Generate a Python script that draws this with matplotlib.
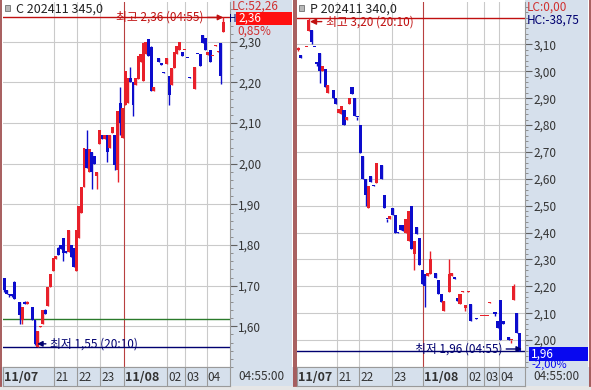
import numpy as np
from matplotlib import pyplot as plt
from matplotlib.patches import Rectangle

plt.rcParams['font.family'] = ['Noto Sans CJK KR', 'DejaVu Sans']

# ---- call option (C 202411 345.0), one candle per 5-minute slot
call_slot = [0, 1, 2, 3, 4, 6, 7, 8, 9, 11,
             12, 13, 14, 15, 16, 17, 18, 19, 20, 21,
             22, 23, 24, 25, 26, 27, 28, 29, 30, 31,
             32, 33, 34, 35, 36, 37, 38, 39, 40, 41,
             42, 43, 44, 45, 46, 47, 48, 49, 50, 51,
             52, 53, 54, 55, 56, 57, 58, 60, 61, 62,
             63, 64, 65, 66, 67, 68, 69, 70, 71, 72,
             74, 75, 76, 77, 78, 79, 80, 81, 82, 83,
             84, 85]
call_open = [1.72, 1.69, 1.678, 1.68, 1.71, 1.66, 1.615, 1.66, 1.655, 1.648,
             1.615, 1.55, 1.598, 1.607, 1.64, 1.649, 1.697, 1.735, 1.765, 1.793,
             1.80, 1.817, 1.785, 1.783, 1.80, 1.793, 1.735, 1.817, 1.88, 1.944,
             2.036, 1.98, 2.03, 2.02, 1.97, 2.048, 2.07, 2.06, 2.07, 2.04,
             2.075, 2.07, 1.985, 2.15, 2.064, 2.144, 2.15, 2.21, 2.20, 2.195,
             2.209, 2.25, 2.204, 2.27, 2.307, 2.288, 2.18, 2.26, 2.246, 2.226,
             2.245, 2.216, 2.194, 2.236, 2.27, 2.28, 2.275, 2.279, 2.261, 2.214,
             2.185, 2.271, 2.27, 2.317, 2.31, 2.267, 2.28, 2.264, 2.289, 2.275,
             2.298, 2.325]
call_high = [1.72, 1.69, 1.68, 1.68, 1.712, 1.66, 1.648, 1.662, 1.662, 1.648,
             1.615, 1.588, 1.602, 1.64, 1.642, 1.697, 1.728, 1.769, 1.772, 1.796,
             1.80, 1.817, 1.785, 1.836, 1.80, 1.793, 1.836, 1.896, 1.944, 2.04,
             2.084, 2.036, 2.03, 2.02, 1.98, 2.084, 2.07, 2.072, 2.07, 2.07,
             2.09, 2.07, 2.13, 2.19, 2.137, 2.228, 2.21, 2.237, 2.20, 2.21,
             2.264, 2.27, 2.298, 2.30, 2.307, 2.29, 2.19, 2.26, 2.246, 2.226,
             2.26, 2.216, 2.236, 2.275, 2.29, 2.30, 2.275, 2.281, 2.261, 2.214,
             2.237, 2.271, 2.27, 2.317, 2.31, 2.275, 2.28, 2.266, 2.291, 2.277,
             2.298, 2.36]
call_low = [1.685, 1.68, 1.672, 1.672, 1.668, 1.607, 1.607, 1.654, 1.655, 1.615,
            1.555, 1.548, 1.598, 1.607, 1.63, 1.649, 1.697, 1.735, 1.765, 1.776,
            1.79, 1.76, 1.78, 1.783, 1.77, 1.745, 1.735, 1.817, 1.88, 1.944,
            1.99, 1.98, 1.937, 2.0, 1.937, 2.048, 2.06, 2.06, 2.004, 2.04,
            2.075, 1.985, 1.956, 2.07, 2.064, 2.144, 2.15, 2.20, 2.117, 2.195,
            2.209, 2.25, 2.204, 2.27, 2.264, 2.18, 2.18, 2.25, 2.244, 2.224,
            2.245, 2.144, 2.194, 2.236, 2.27, 2.28, 2.265, 2.279, 2.259, 2.21,
            2.185, 2.269, 2.24, 2.298, 2.28, 2.267, 2.25, 2.264, 2.289, 2.275,
            2.197, 2.325]
call_close = [1.69, 1.68, 1.676, 1.675, 1.668, 1.628, 1.648, 1.655, 1.661, 1.615,
              1.556, 1.588, 1.601, 1.64, 1.63, 1.697, 1.728, 1.769, 1.772, 1.776,
              1.79, 1.78, 1.78, 1.836, 1.77, 1.745, 1.836, 1.896, 1.944, 2.04,
              1.99, 2.036, 1.98, 2.0, 1.98, 2.084, 2.06, 2.072, 2.03, 2.07,
              2.09, 1.997, 2.13, 2.10, 2.137, 2.228, 2.21, 2.20, 2.144, 2.21,
              2.264, 2.27, 2.298, 2.30, 2.264, 2.18, 2.19, 2.25, 2.244, 2.224,
              2.26, 2.168, 2.236, 2.275, 2.29, 2.30, 2.265, 2.281, 2.259, 2.21,
              2.237, 2.269, 2.24, 2.298, 2.28, 2.275, 2.25, 2.266, 2.291, 2.277,
              2.216, 2.35]

# ---- put option (P 202411 340.0)
put_slot = [0, 1, 3, 4, 5, 6, 7, 8, 9, 10,
            11, 13, 14, 15, 16, 17, 18, 19, 20, 21,
            22, 23, 24, 25, 26, 27, 28, 29, 31, 32,
            33, 34, 35, 36, 37, 38, 39, 40, 41, 42,
            43, 44, 45, 46, 47, 48, 49, 51, 52, 53,
            54, 56, 57, 58, 59, 60, 61, 62, 63, 64,
            66, 68, 69, 70, 71, 73, 74, 75, 76, 78,
            79, 80, 81, 82]
put_open = [3.08, 3.06, 3.089, 3.15, 3.155, 3.091, 3.031, 3.07, 3.00, 3.01,
            2.92, 2.93, 2.90, 2.845, 2.84, 2.855, 2.82, 2.88, 2.94, 2.90,
            2.831, 2.80, 2.685, 2.60, 2.49, 2.61, 2.576, 2.585, 2.65, 2.54,
            2.451, 2.45, 2.49, 2.465, 2.401, 2.43, 2.43, 2.40, 2.37, 2.50,
            2.32, 2.42, 2.38, 2.26, 2.245, 2.24, 2.245, 2.25, 2.225, 2.17,
            2.11, 2.18, 2.24, 2.231, 2.155, 2.135, 2.179, 2.12, 2.179, 2.135,
            2.081, 2.089, 2.089, 2.089, 2.139, 2.101, 2.07, 2.15, 2.07, 2.01,
            1.999, 2.15, 2.10, 2.025]
put_high = [3.09, 3.06, 3.091, 3.20, 3.155, 3.091, 3.031, 3.07, 3.02, 3.01,
            2.95, 2.93, 2.90, 2.86, 2.87, 2.855, 2.83, 2.90, 2.94, 2.90,
            2.831, 2.80, 2.685, 2.60, 2.575, 2.61, 2.576, 2.66, 2.65, 2.54,
            2.451, 2.46, 2.49, 2.465, 2.401, 2.43, 2.43, 2.45, 2.48, 2.50,
            2.37, 2.42, 2.38, 2.26, 2.245, 2.25, 2.33, 2.25, 2.225, 2.17,
            2.145, 2.30, 2.25, 2.231, 2.155, 2.17, 2.181, 2.13, 2.181, 2.135,
            2.081, 2.091, 2.091, 2.091, 2.141, 2.101, 2.07, 2.15, 2.07, 2.01,
            2.001, 2.21, 2.10, 2.025]
put_low = [3.075, 3.05, 3.089, 3.15, 3.10, 3.089, 3.02, 2.955, 3.00, 2.94,
           2.92, 2.90, 2.88, 2.845, 2.84, 2.80, 2.82, 2.88, 2.915, 2.835,
           2.82, 2.695, 2.60, 2.50, 2.49, 2.59, 2.574, 2.585, 2.60, 2.49,
           2.44, 2.45, 2.465, 2.40, 2.399, 2.41, 2.405, 2.40, 2.37, 2.34,
           2.26, 2.395, 2.28, 2.21, 2.125, 2.24, 2.245, 2.23, 2.17, 2.14,
           2.11, 2.18, 2.24, 2.229, 2.145, 2.135, 2.179, 2.11, 2.179, 2.07,
           2.079, 2.089, 2.089, 2.089, 2.139, 2.09, 2.045, 2.00, 2.06, 2.00,
           1.99, 2.15, 2.025, 1.96]
put_close = [3.085, 3.05, 3.091, 3.19, 3.11, 3.089, 3.029, 3.00, 3.02, 2.94,
             2.95, 2.90, 2.88, 2.86, 2.87, 2.80, 2.83, 2.90, 2.915, 2.835,
             2.829, 2.695, 2.60, 2.54, 2.575, 2.59, 2.574, 2.66, 2.60, 2.49,
             2.449, 2.46, 2.465, 2.40, 2.399, 2.41, 2.405, 2.45, 2.48, 2.34,
             2.37, 2.395, 2.28, 2.21, 2.20, 2.25, 2.30, 2.23, 2.17, 2.14,
             2.145, 2.245, 2.25, 2.229, 2.145, 2.17, 2.181, 2.13, 2.181, 2.07,
             2.079, 2.091, 2.091, 2.091, 2.141, 2.099, 2.045, 2.00, 2.06, 2.00,
             2.001, 2.20, 2.025, 1.96]

# session boundaries (in slots) and their labels
day_labels = ['11/07', '21', '22', '23', '11/08', '02', '03', '04']
call_day_start = [-0.4, 19.4, 28.3, 37.2, 46.5, 63.1, 70.2, 78.5]
put_day_start = [-0.4, 14.4, 22.6, 34.8, 46.3, 62.6, 68.9, 74.4]

call_hi, call_lo, call_base = 2.36, 1.55, 1.617
put_hi, put_lo = 3.20, 1.96

RED = '#E8202A'
BLUE = '#0C0CCC'
NAVY = '#000070'
DKRED = '#C01010'
PANEL = '#D6E0EC'
GRID = '#CACACA'
W, H = 591, 390

fig = plt.figure(figsize=(W / 100, H / 100), dpi=100)


def px_axes(x0, y0, x1, y1, **kw):
    return fig.add_axes([x0 / W, 1 - y1 / H, (x1 - x0) / W, (y1 - y0) / H], **kw)


def comma(v, _=None):
    return f'{v:.2f}'.replace('.', ',')


# background / decoration layer in pixel units
bg = px_axes(0, 0, W, H, zorder=-5)
bg.set_xlim(0, W)
bg.set_ylim(H, 0)
bg.axis('off')
for x0, x1 in [(230, 292), (525, 588)]:
    bg.add_patch(Rectangle((x0, 0), x1 - x0, 367, color=PANEL, lw=0))
bg.add_patch(Rectangle((0, 367), W, 19, color=PANEL, lw=0))
bg.add_patch(Rectangle((0, 386), W, 4, color='#E6E6E6', lw=0))
for x in [1, 293.5, 296, 589.5]:
    bg.axvline(x, ymin=4 / H, color='#A05050', lw=1.3)


def draw_panel(x0, x1, slots, o, h, l, c, ylim, ticks, day_start, xlim, minh):
    ax = px_axes(x0, 2, x1, 367)
    ax.set_facecolor('white')
    ax.set_xlim(*xlim)
    ax.set_ylim(*ylim)
    t = np.array(slots)
    o, h, l, c = map(np.array, (o, h, l, c))
    colors = np.where(c >= o, RED, BLUE)
    for y in ticks:
        ax.axhline(y, color=GRID, lw=0.8, zorder=0)
    for i, d in enumerate(day_start[1:], start=1):
        ax.axvline(d, color='#B84040' if i == 4 else GRID, lw=0.8, zorder=0)
    ax.vlines(t, l, h, colors=colors, lw=1, zorder=2)
    ax.bar(t, np.maximum(np.abs(c - o), minh), bottom=np.minimum(o, c),
           width=1.15, color=colors, lw=0, zorder=3)
    ax.yaxis.tick_right()
    ax.set_yticks(ticks)
    ax.set_yticks(np.arange(ticks[0] - 0.1, ylim[1], 0.02), minor=True)
    ax.yaxis.set_major_formatter(comma)
    ax.tick_params(axis='y', which='major', direction='out', length=5, width=0.8,
                   color='#606060', labelsize=8.5, labelcolor='#333333', pad=1)
    ax.tick_params(axis='y', which='minor', direction='out', length=2.5, width=0.6,
                   color='#808080')
    ax.set_xticks([])
    for s in ['top', 'left']:
        ax.spines[s].set_visible(False)
    for s in ['right', 'bottom']:
        ax.spines[s].set_color('#9A9A9A')
        ax.spines[s].set_linewidth(0.8)

    # date row under the panel
    row = px_axes(x0, 367, x1, 386)
    row.set_facecolor(PANEL)
    row.set_xlim(*xlim)
    row.set_ylim(0, 1)
    row.set_xticks([])
    row.set_yticks([])
    for s in row.spines.values():
        s.set_color('#9A9A9A')
        s.set_linewidth(0.8)
    for i, (d, lab) in enumerate(zip(day_start, day_labels)):
        if i > 0:
            row.axvline(d, color='#9A9A9A', lw=0.8)
        bold = '/' in lab
        row.text(d + 0.5, 0.45, lab, fontsize=9 if bold else 8.5,
                 fontweight='bold' if bold else 'normal', color='#333333',
                 va='center', ha='left')
    return ax


ax1 = draw_panel(3, 230, call_slot, call_open, call_high, call_low, call_close,
                 (1.520, 2.398), np.round(np.arange(1.60, 2.31, 0.1), 2),
                 call_day_start, (-0.4, 87.6), 0.003)
ax1.axhline(call_hi, color=DKRED, lw=1, zorder=1)
ax1.axhline(call_lo, color=NAVY, lw=1, zorder=1)
ax1.axhline(call_base, color='#2A7A2A', lw=1, zorder=1)
ax1.annotate('최고 2,36 (04:55)', xy=(85, call_hi), xytext=(-20, 0),
             textcoords='offset pixels', ha='right', va='center', fontsize=8.5,
             color=DKRED, arrowprops=dict(arrowstyle='-|>', color=DKRED, lw=1,
                                          mutation_scale=8, shrinkA=1, shrinkB=0))
ax1.annotate('최저 1,55 (20:10)', xy=(12.8, call_lo + 0.007), xytext=(13, 0),
             textcoords='offset pixels', ha='left', va='center', fontsize=8.5,
             color=NAVY, arrowprops=dict(arrowstyle='-|>', color=NAVY, lw=1,
                                         mutation_scale=8, shrinkA=1, shrinkB=0))

ax2 = draw_panel(297, 525, put_slot, put_open, put_high, put_low, put_close,
                 (1.916, 3.258), np.round(np.arange(2.00, 3.11, 0.1), 2),
                 put_day_start, (-0.4, 84.1), 0.004)
ax2.axhline(put_hi, color=DKRED, lw=1, zorder=1)
ax2.axhline(put_lo, color=NAVY, lw=1, zorder=1)
ax2.annotate('최고 3,20 (20:10)', xy=(4.4, 3.185), xytext=(16, 0),
             textcoords='offset pixels', ha='left', va='center', fontsize=8.5,
             color=DKRED, arrowprops=dict(arrowstyle='-|>', color=DKRED, lw=1,
                                          mutation_scale=9, shrinkA=1, shrinkB=0))
ax2.annotate('최저 1,96 (04:55)', xy=(83, 1.967), xytext=(-20, 0),
             textcoords='offset pixels', ha='right', va='center', fontsize=8.5,
             color=NAVY, arrowprops=dict(arrowstyle='-|>', color=NAVY, lw=1,
                                         mutation_scale=8, shrinkA=1, shrinkB=0))

# overlay: headers, price boxes and side labels (pixel units)
ov = px_axes(0, 0, W, H, zorder=10)
ov.set_xlim(0, W)
ov.set_ylim(H, 0)
ov.axis('off')
for x, title in [(5, 'C 202411 345,0'), (299, 'P 202411 340,0')]:
    ov.add_patch(Rectangle((x, 5), 5, 6, facecolor='#B8B8B8', edgecolor='#707070', lw=0.6))
    ov.text(x + 11, 9, title, fontsize=9, va='center', ha='left', color='#222222')

ov.text(232, 6, 'LC:52,26', fontsize=8.5, va='center', color='#D03030')
ov.text(229.5, 18.5, 'H', fontsize=7.5, va='center', color=NAVY)
ov.add_patch(Rectangle((236, 12), 56, 13, color='#FF1010', lw=0))
ov.text(238, 18.5, '2,36', fontsize=8.5, va='center', color='white')
ov.text(237, 31, '0,85%', fontsize=8.5, va='center', color='#D03030')

ov.text(527, 7, 'LC:0,00', fontsize=8.5, va='center', color='#D03030')
ov.text(527, 20, 'HC:-38,75', fontsize=8.5, va='center', color=NAVY)
ov.add_patch(Rectangle((529, 347), 59, 14, color='#0808F0', lw=0))
ov.text(531, 354, '1,96', fontsize=8.5, va='center', color='white')
clip = Rectangle((525, 361), 63, 6, transform=ov.transData)
pct = ov.text(531, 365, '-2,00%', fontsize=8, va='center', color='#0808F0')
pct.set_clip_path(clip)

for x in [230, 525]:
    ov.text(x + 31, 377, '04:55:00', fontsize=8.5, va='center', ha='center', color='#333333')

fig.savefig('out.png', dpi=100)
